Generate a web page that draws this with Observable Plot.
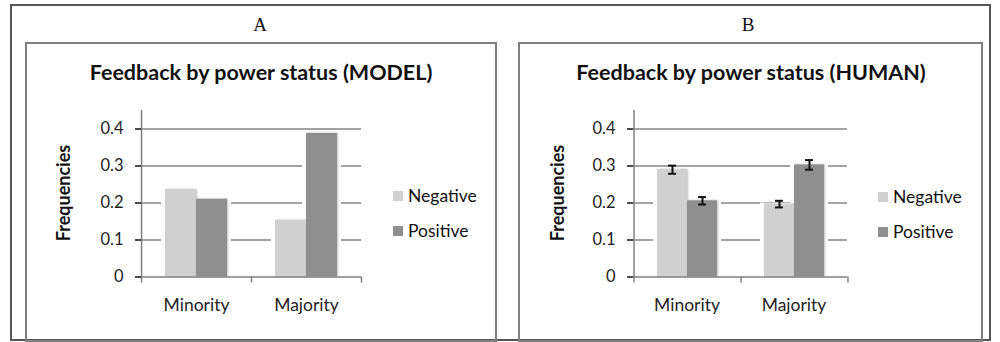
<!DOCTYPE html>
<html>
<head>
<meta charset="utf-8">
<script src="https://cdn.jsdelivr.net/npm/d3@7"></script>
<script src="https://cdn.jsdelivr.net/npm/@observablehq/plot@0.6"></script>
<style>
  html, body { margin: 0; padding: 0; background: #fff; }
  #page { position: relative; width: 1000px; height: 342px; overflow: hidden; font-family: Lato, "Open Sans", sans-serif; color: #111; }
  .abs { position: absolute; }
  .outer { left: 10px; top: 4px; width: 981px; height: 337px; border: 2px solid #555; box-sizing: border-box; }
  .inner { top: 42px; height: 300px; border: 2px solid #7f7f7f; box-sizing: border-box; }
  .letter { top: 14px; width: 60px; text-align: center; font-family: "Liberation Serif", "DejaVu Serif", serif; font-size: 19px; line-height: 22px; }
  .title { top: 60px; width: 420px; text-align: center; font-weight: bold; font-size: 21.5px; line-height: 24px; }
  .ylab { width: 160px; text-align: center; font-weight: bold; font-size: 18px; line-height: 20px; transform: rotate(-90deg); }
  .leg { font-size: 17.5px; line-height: 20px; display: flex; align-items: center; }
  .sw { width: 10px; height: 10px; margin-right: 5px; }
  .plot { position: absolute; }
  .plot g[aria-label="y-axis tick"] { stroke: #808080; stroke-width: 1.5px; }
  .plot g[aria-label="y-axis tick label"] { fill: #222; }
  .plot .bars rect { filter: drop-shadow(1px 0px 1px rgba(0,0,0,0.25)); }
</style>
</head>
<body>
<div id="page">
  <div class="abs outer"></div>
  <div class="abs inner" style="left:25px; width:472px;"></div>
  <div class="abs inner" style="left:518px; width:465px;"></div>
  <div class="abs letter" style="left:230px;">A</div>
  <div class="abs letter" style="left:718px;">B</div>
  <div class="abs title" style="left:51px;">Feedback by power status (MODEL)</div>
  <div class="abs title" style="left:541px;">Feedback by power status (HUMAN)</div>
  <div class="abs ylab" style="left:-17px; top:183px;">Frequencies</div>
  <div class="abs ylab" style="left:477px; top:183px;">Frequencies</div>
  <div class="abs leg" style="left:393px; top:186px;"><div class="sw" style="background:#d0d0d0"></div>Negative</div>
  <div class="abs leg" style="left:393px; top:221px;"><div class="sw" style="background:#8f8f8f"></div>Positive</div>
  <div class="abs leg" style="left:878px; top:187px;"><div class="sw" style="background:#d0d0d0"></div>Negative</div>
  <div class="abs leg" style="left:878px; top:222px;"><div class="sw" style="background:#8f8f8f"></div>Positive</div>
  <div id="plotA" class="plot" style="left:30px; top:95px;"></div>
  <div id="plotB" class="plot" style="left:523px; top:95px;"></div>
</div>
<script>
// ---- data ----
const categories = ["Minority", "Majority"];
const seriesNames = ["Negative", "Positive"];
const seriesColors = ["#d0d0d0", "#8f8f8f"];
const yTicks = [0, 0.1, 0.2, 0.3, 0.4];

const modelNegative = [0.236, 0.153];
const modelPositive = [0.21, 0.388];

const humanNegative = [0.29, 0.197];
const humanPositive = [0.206, 0.303];
const humanNegativeErr = [0.011, 0.009];
const humanPositiveErr = [0.01, 0.013];

function rows(neg, pos, negErr, posErr) {
  const out = [];
  categories.forEach((c, i) => {
    out.push({cat: c, series: "Negative", value: neg[i], err: negErr ? negErr[i] : 0});
    out.push({cat: c, series: "Positive", value: pos[i], err: posErr ? posErr[i] : 0});
  });
  return out;
}

function makeChart(data, {width, marginRight, paddingOuter, errors}) {
  const marginLeft = 110;
  const facetW = (width - marginLeft - marginRight) / categories.length;
  const bw = facetW / (seriesNames.length + 2 * paddingOuter);
  const edge = (paddingOuter + 0.5) * bw;
  const tickLen = 0.0163;
  const marks = [
    Plot.ruleY([0.1, 0.2, 0.3, 0.4], {stroke: "#858585", strokeWidth: 1.5}),
    Plot.barY(data, {fx: "cat", x: "series", y: "value", fill: "white", insetLeft: -4, insetRight: -4, insetTop: -1}),
    Plot.barY(data, {fx: "cat", x: "series", y: "value", fill: "series", className: "bars"}),
    Plot.ruleY([0], {stroke: "#808080", strokeWidth: 1.5}),
    // y axis line (left edge of first facet)
    Plot.ruleX([{fx: categories[0]}], {fx: "fx", x: () => seriesNames[0], dx: -edge, y1: -tickLen, y2: 0.45, stroke: "#808080", strokeWidth: 1.5}),
    // category boundary ticks
    Plot.ruleX([{fx: categories[1]}], {fx: "fx", x: () => seriesNames[0], dx: -edge, y1: -tickLen, y2: 0, stroke: "#808080", strokeWidth: 1.5}),
    Plot.ruleX([{fx: categories[1]}], {fx: "fx", x: () => seriesNames[1], dx: edge, y1: -tickLen, y2: 0, stroke: "#808080", strokeWidth: 1.5}),
    Plot.axisY({ticks: yTicks, tickFormat: d => d === 0 ? "0" : d.toFixed(1), tickSize: 6, tickPadding: 12, fontSize: 16.5, label: null}),
    Plot.axisFx({anchor: "bottom", tickSize: 0, tickPadding: 22, fontSize: 17.5, label: null, fill: "#222"})
  ];
  if (errors) {
    const capInset = (bw - 8) / 2;
    marks.push(
      Plot.ruleX(data, {fx: "cat", x: "series", y1: d => d.value - d.err, y2: d => d.value + d.err, stroke: "#111", strokeWidth: 2}),
      Plot.tickY(data, {fx: "cat", x: "series", y: d => d.value - d.err, stroke: "#111", strokeWidth: 2, insetLeft: capInset, insetRight: capInset}),
      Plot.tickY(data, {fx: "cat", x: "series", y: d => d.value + d.err, stroke: "#111", strokeWidth: 2, insetLeft: capInset, insetRight: capInset})
    );
  }
  return Plot.plot({
    width, height: 240,
    marginLeft, marginRight, marginTop: 15, marginBottom: 58.5,
    style: {fontFamily: "Lato, 'Open Sans', sans-serif", fontSize: "16px", background: "transparent", overflow: "visible"},
    fx: {domain: categories, padding: 0, label: null},
    x: {domain: seriesNames, paddingInner: 0, paddingOuter, axis: null},
    y: {domain: [0, 0.45], axis: null},
    color: {domain: seriesNames, range: seriesColors},
    marks
  });
}

document.getElementById("plotA").append(
  makeChart(rows(modelNegative, modelPositive), {width: 340, marginRight: 9, paddingOuter: 0.75, errors: false})
);
document.getElementById("plotB").append(
  makeChart(rows(humanNegative, humanPositive, humanNegativeErr, humanPositiveErr), {width: 340, marginRight: 16, paddingOuter: 0.78, errors: true})
);
</script>
</body>
</html>
